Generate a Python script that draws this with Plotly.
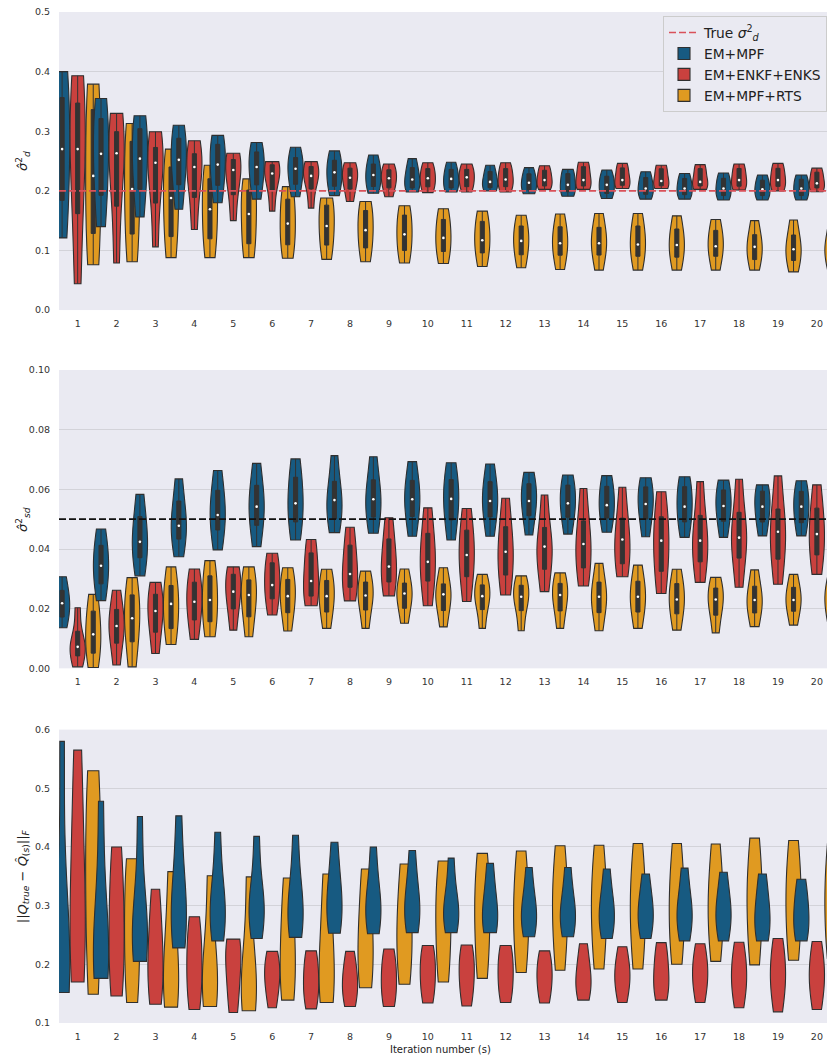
import numpy as np
import plotly.graph_objects as go
from plotly.subplots import make_subplots

# ---------------- data ----------------
ITERATIONS = list(range(1, 21))
METHODS = ["EM+MPF", "EM+ENKF+ENKS", "EM+MPF+RTS"]
TRUE_SIGMA_D = 0.2
TRUE_SIGMA_SD = 0.05

# each tuple: (min, q1, median, q3, max) of the runs for one iteration
sigd_mpf = [(0.121, 0.205, 0.27, 0.342, 0.40), (0.14, 0.21, 0.262, 0.31, 0.355), (0.156, 0.218, 0.254, 0.297, 0.326),
            (0.169, 0.224, 0.252, 0.281, 0.31), (0.18, 0.219, 0.244, 0.273, 0.293), (0.186, 0.218, 0.24, 0.26, 0.281),
            (0.19, 0.218, 0.237, 0.25, 0.273), (0.192, 0.213, 0.231, 0.246, 0.267), (0.196, 0.211, 0.2265, 0.24, 0.26),
            (0.198, 0.207, 0.219, 0.234, 0.254), (0.198, 0.207, 0.22, 0.232, 0.248), (0.20, 0.207, 0.215, 0.229, 0.243),
            (0.195, 0.204, 0.2136, 0.225, 0.239), (0.191, 0.201, 0.21, 0.2265, 0.236), (0.187, 0.1985, 0.21, 0.221, 0.235),
            (0.186, 0.197, 0.204, 0.219, 0.232), (0.186, 0.196, 0.204, 0.218, 0.229), (0.1846, 0.1946, 0.204, 0.218, 0.23),
            (0.1846, 0.1946, 0.2025, 0.215, 0.2265), (0.1846, 0.1946, 0.204, 0.217, 0.2265)]
sigd_enkf = [(0.044, 0.201, 0.27, 0.332, 0.393), (0.079, 0.206, 0.263, 0.289, 0.33), (0.106, 0.204, 0.247, 0.264, 0.299),
             (0.135, 0.207, 0.24, 0.255, 0.284), (0.15, 0.208, 0.235, 0.249, 0.263), (0.166, 0.213, 0.229, 0.242, 0.249),
             (0.171, 0.214, 0.225, 0.238, 0.249), (0.182, 0.21, 0.222, 0.235, 0.247), (0.19, 0.21, 0.221, 0.232, 0.245),
             (0.197, 0.21, 0.221, 0.234, 0.247), (0.198, 0.21, 0.2226, 0.233, 0.245), (0.198, 0.21, 0.219, 0.234, 0.247),
             (0.2025, 0.21, 0.218, 0.232, 0.242), (0.2025, 0.21, 0.218, 0.238, 0.248), (0.204, 0.211, 0.218, 0.236, 0.246),
             (0.204, 0.21, 0.2164, 0.235, 0.243), (0.2025, 0.21, 0.215, 0.235, 0.244), (0.2013, 0.21, 0.218, 0.235, 0.245),
             (0.20, 0.21, 0.218, 0.235, 0.246), (0.1985, 0.207, 0.2125, 0.229, 0.238)]
sigd_rts = [(0.076, 0.146, 0.225, 0.322, 0.379), (0.081, 0.143, 0.203, 0.273, 0.313), (0.088, 0.135, 0.188, 0.23, 0.27),
            (0.088, 0.13, 0.169, 0.2126, 0.243), (0.088, 0.119, 0.161, 0.195, 0.22), (0.087, 0.117, 0.145, 0.179, 0.207),
            (0.085, 0.117, 0.141, 0.172, 0.188), (0.081, 0.112, 0.134, 0.162, 0.182), (0.079, 0.107, 0.127, 0.154, 0.175),
            (0.078, 0.105, 0.121, 0.146, 0.17), (0.073, 0.1035, 0.117, 0.143, 0.166), (0.071, 0.10, 0.116, 0.135, 0.159),
            (0.068, 0.10, 0.112, 0.1326, 0.161), (0.067, 0.1007, 0.112, 0.131, 0.162), (0.067, 0.098, 0.11, 0.134, 0.162),
            (0.067, 0.096, 0.109, 0.1286, 0.158), (0.067, 0.098, 0.107, 0.1275, 0.152), (0.067, 0.0906, 0.106, 0.1186, 0.15),
            (0.064, 0.0895, 0.102, 0.1175, 0.151), (0.064, 0.0906, 0.102, 0.116, 0.148)]

sigsd_mpf = [(0.0136, 0.0184, 0.0218, 0.0246, 0.0307), (0.0227, 0.0302, 0.0344, 0.0394, 0.0467), (0.031, 0.0391, 0.0424, 0.0484, 0.0583),
             (0.0374, 0.0453, 0.0478, 0.0536, 0.0635), (0.0397, 0.0486, 0.0514, 0.0575, 0.0663), (0.0408, 0.0503, 0.0542, 0.0589, 0.0687),
             (0.043, 0.0511, 0.0553, 0.062, 0.0702), (0.0455, 0.0516, 0.0564, 0.0598, 0.0713), (0.0453, 0.0525, 0.0567, 0.0606, 0.0709),
             (0.0443, 0.0531, 0.0567, 0.0609, 0.0693), (0.043, 0.052, 0.0568, 0.0614, 0.0689), (0.0443, 0.0529, 0.0561, 0.0606, 0.0685),
             (0.0447, 0.0533, 0.0561, 0.0606, 0.0657), (0.045, 0.0525, 0.0553, 0.0603, 0.0648), (0.0456, 0.052, 0.0547, 0.0598, 0.0646),
             (0.0441, 0.052, 0.0551, 0.0598, 0.0639), (0.0439, 0.0508, 0.0542, 0.0598, 0.0642), (0.0439, 0.0511, 0.0544, 0.0587, 0.0631),
             (0.0444, 0.0506, 0.0542, 0.0587, 0.0615), (0.0444, 0.0503, 0.0542, 0.0581, 0.0629)]
sigsd_enkf = [(0.0005, 0.0054, 0.0072, 0.0098, 0.0203), (0.0011, 0.0109, 0.0142, 0.0176, 0.0262), (0.005, 0.0145, 0.0192, 0.0235, 0.0288),
              (0.0097, 0.0184, 0.0223, 0.0274, 0.0333), (0.0128, 0.0223, 0.0257, 0.0307, 0.034), (0.0179, 0.0251, 0.0279, 0.0343, 0.0386),
              (0.021, 0.0253, 0.0293, 0.0372, 0.0432), (0.0226, 0.0287, 0.0316, 0.0393, 0.0473), (0.0243, 0.0305, 0.0341, 0.041, 0.0505),
              (0.021, 0.032, 0.0357, 0.0424, 0.0538), (0.0224, 0.0335, 0.038, 0.0439, 0.0536), (0.0246, 0.0335, 0.0391, 0.0443, 0.057),
              (0.0257, 0.0357, 0.0408, 0.0436, 0.0581), (0.0276, 0.0357, 0.0417, 0.0458, 0.0603), (0.0307, 0.0365, 0.0432, 0.0469, 0.0607),
              (0.0251, 0.035, 0.0428, 0.048, 0.0592), (0.0288, 0.038, 0.0428, 0.0475, 0.0626), (0.0272, 0.0402, 0.0438, 0.0486, 0.0634),
              (0.0282, 0.0394, 0.0458, 0.0497, 0.0645), (0.0315, 0.0402, 0.045, 0.0511, 0.0615)]
sigsd_rts = [(0.0003, 0.0067, 0.0114, 0.0173, 0.0248), (0.0005, 0.0117, 0.0168, 0.0227, 0.0304), (0.008, 0.0151, 0.0216, 0.0257, 0.034),
             (0.0106, 0.0173, 0.0229, 0.0293, 0.0361), (0.0106, 0.0195, 0.0246, 0.0282, 0.034), (0.0125, 0.0207, 0.0242, 0.0285, 0.0337),
             (0.0134, 0.0207, 0.0242, 0.0282, 0.0332), (0.0134, 0.0216, 0.0244, 0.0277, 0.0326), (0.0151, 0.0218, 0.0251, 0.027, 0.0333),
             (0.0139, 0.0212, 0.0248, 0.0265, 0.0337), (0.0134, 0.0218, 0.0242, 0.0268, 0.0315), (0.0126, 0.0216, 0.024, 0.0268, 0.031),
             (0.0134, 0.0212, 0.0246, 0.0273, 0.032), (0.0126, 0.0207, 0.024, 0.0268, 0.0352), (0.0134, 0.0207, 0.024, 0.0274, 0.0346),
             (0.0128, 0.0201, 0.0231, 0.0268, 0.0332), (0.0119, 0.0198, 0.0231, 0.0257, 0.0305), (0.014, 0.0201, 0.0229, 0.0257, 0.033),
             (0.0145, 0.0207, 0.0229, 0.0257, 0.0315), (0.014, 0.02, 0.0229, 0.026, 0.031)]

qerr_mpf = [(0.152, 0.17, 0.21, 0.3, 0.58), (0.176, 0.19, 0.23, 0.3, 0.478), (0.205, 0.23, 0.26, 0.31, 0.452),
            (0.228, 0.26, 0.3, 0.34, 0.453), (0.24, 0.27, 0.3, 0.33, 0.425), (0.244, 0.28, 0.3, 0.33, 0.418),
            (0.246, 0.27, 0.3, 0.33, 0.42), (0.253, 0.28, 0.31, 0.34, 0.408), (0.252, 0.28, 0.3, 0.33, 0.40),
            (0.254, 0.28, 0.3, 0.33, 0.394), (0.254, 0.28, 0.29, 0.32, 0.381), (0.254, 0.27, 0.29, 0.32, 0.372),
            (0.247, 0.27, 0.29, 0.31, 0.365), (0.247, 0.27, 0.29, 0.31, 0.365), (0.244, 0.27, 0.29, 0.31, 0.3625),
            (0.244, 0.27, 0.29, 0.31, 0.354), (0.24, 0.27, 0.29, 0.31, 0.364), (0.24, 0.27, 0.29, 0.31, 0.357),
            (0.24, 0.26, 0.285, 0.31, 0.354), (0.24, 0.26, 0.285, 0.31, 0.345)]
qerr_enkf = [(0.17, 0.22, 0.3, 0.42, 0.565), (0.146, 0.2, 0.26, 0.33, 0.40), (0.132, 0.17, 0.21, 0.26, 0.328),
             (0.123, 0.16, 0.2, 0.24, 0.281), (0.118, 0.16, 0.2, 0.23, 0.243), (0.126, 0.16, 0.18, 0.2, 0.222),
             (0.124, 0.15, 0.17, 0.2, 0.223), (0.128, 0.15, 0.17, 0.19, 0.222), (0.128, 0.15, 0.175, 0.2, 0.226),
             (0.134, 0.16, 0.185, 0.21, 0.232), (0.129, 0.16, 0.185, 0.21, 0.233), (0.135, 0.16, 0.185, 0.21, 0.232),
             (0.134, 0.16, 0.18, 0.2, 0.223), (0.139, 0.16, 0.175, 0.2, 0.235), (0.135, 0.165, 0.18, 0.2, 0.23),
             (0.139, 0.16, 0.18, 0.21, 0.237), (0.135, 0.165, 0.185, 0.205, 0.235), (0.126, 0.16, 0.18, 0.205, 0.2375),
             (0.119, 0.16, 0.18, 0.21, 0.244), (0.123, 0.16, 0.18, 0.205, 0.239)]
qerr_rts = [(0.149, 0.25, 0.35, 0.45, 0.53), (0.135, 0.19, 0.26, 0.33, 0.38), (0.127, 0.15, 0.19, 0.25, 0.358),
            (0.128, 0.15, 0.18, 0.23, 0.351), (0.121, 0.14, 0.17, 0.22, 0.349), (0.139, 0.17, 0.22, 0.28, 0.347),
            (0.135, 0.16, 0.2, 0.27, 0.354), (0.16, 0.19, 0.24, 0.29, 0.3625), (0.166, 0.21, 0.26, 0.3, 0.371),
            (0.17, 0.22, 0.28, 0.32, 0.376), (0.176, 0.23, 0.29, 0.33, 0.389), (0.186, 0.24, 0.29, 0.33, 0.393),
            (0.19, 0.25, 0.3, 0.34, 0.402), (0.192, 0.25, 0.3, 0.34, 0.403), (0.192, 0.25, 0.3, 0.34, 0.406),
            (0.2, 0.25, 0.3, 0.34, 0.406), (0.205, 0.26, 0.3, 0.34, 0.405), (0.199, 0.26, 0.31, 0.35, 0.415),
            (0.207, 0.26, 0.31, 0.35, 0.411), (0.21, 0.26, 0.31, 0.35, 0.41)]

# y tick values of the three panels
TICKS_SIGD = [0.0, 0.1, 0.2, 0.3, 0.4, 0.5]
TICKS_SIGSD = [0.0, 0.02, 0.04, 0.06, 0.08, 0.10]
TICKS_QERR = [0.1, 0.2, 0.3, 0.4, 0.5, 0.6]

# ---------------- style ----------------
COLORS = {"EM+MPF": "#175a81", "EM+ENKF+ENKS": "#c9413e", "EM+MPF+RTS": "#e09a21"}
OFFSET = {"EM+MPF": -0.4, "EM+ENKF+ENKS": 0.0, "EM+MPF+RTS": 0.4}
RANK = {"EM+MPF": 2, "EM+ENKF+ENKS": 3, "EM+MPF+RTS": 4}
EDGE = "#2f2f2f"
BG = "#eaeaf2"
GRID = "#d3d3d9"
FONT = "DejaVu Sans"

panels = [
    {"data": {"EM+MPF": sigd_mpf, "EM+ENKF+ENKS": sigd_enkf, "EM+MPF+RTS": sigd_rts},
     "inner": True, "range": [0, 0.5], "ticks": TICKS_SIGD, "fmt": "{:.1f}", "domain": [0.7052, 1.0]},
    {"data": {"EM+MPF": sigsd_mpf, "EM+ENKF+ENKS": sigsd_enkf, "EM+MPF+RTS": sigsd_rts},
     "inner": True, "range": [0, 0.1], "ticks": TICKS_SIGSD, "fmt": "{:.2f}", "domain": [0.3508, 0.6459]},
    {"data": {"EM+MPF": qerr_mpf, "EM+ENKF+ENKS": qerr_enkf, "EM+MPF+RTS": qerr_rts},
     "inner": False, "range": [0.1, 0.6], "ticks": TICKS_QERR, "fmt": "{:.1f}", "domain": [0.0, 0.2902]},
]

fig = make_subplots(rows=3, cols=1)

for r, p in enumerate(panels, start=1):
    # one violin per trace so that every violin gets the same maximal width
    for k, it in enumerate(ITERATIONS):
        for m in METHODS:
            s = p["data"][m][k]
            pos = it + OFFSET[m]
            fig.add_trace(go.Violin(
                x=[pos] * len(s), y=list(s), name=m, legendgroup=m,
                showlegend=(r == 1 and k == 0), legendrank=RANK[m],
                scalegroup=f"p{r}-{m}-{it}", width=0.39, scalemode="width",
                spanmode="hard", points=False,
                fillcolor=COLORS[m], opacity=1, line=dict(color=EDGE, width=1.1),
                box=dict(visible=p["inner"], width=0.27, fillcolor="#333333",
                         line=dict(color="#333333", width=1)),
                meanline=dict(visible=False), hoverinfo="skip"), row=r, col=1)
    if p["inner"]:
        for m in METHODS:
            stats = p["data"][m]
            fig.add_trace(go.Scatter(
                x=[it + OFFSET[m] for it in ITERATIONS], y=[float(np.median(s)) for s in stats],
                mode="markers", marker=dict(color="white", size=2.6, line=dict(width=0)),
                showlegend=False, hoverinfo="skip"), row=r, col=1)

fig.add_hline(y=TRUE_SIGMA_D, row=1, col=1, layer="above",
              line=dict(color="#d9515a", width=1.6, dash="7px,3px"),
              showlegend=True, name="True <i>σ</i><sup>2</sup><sub><i>d</i></sub>", legendrank=1)
fig.add_hline(y=TRUE_SIGMA_SD, row=2, col=1, layer="above",
              line=dict(color="#111111", width=1.8, dash="7px,3px"))

for r, p in enumerate(panels, start=1):
    fig.update_xaxes(row=r, col=1, range=[0.52, 20.26], tickmode="array", tickvals=ITERATIONS,
                     ticktext=[str(i) for i in ITERATIONS], showgrid=False, zeroline=False,
                     showline=False, ticks="", ticklabelstandoff=6, automargin=False,
                     tickfont=dict(size=9.5, color="#333333", family=FONT))
    fig.update_yaxes(row=r, col=1, range=p["range"], tickmode="array", tickvals=p["ticks"],
                     ticktext=[p["fmt"].format(v) for v in p["ticks"]],
                     domain=p["domain"], showgrid=True, gridcolor=GRID, gridwidth=1, zeroline=False,
                     showline=False, ticks="", ticklabelstandoff=8, automargin=False,
                     tickfont=dict(size=9.5, color="#333333", family=FONT))

ytitles = ["<i>σ̂</i><sup>2</sup><sub><i>d</i></sub>",
           "<i>σ̂</i><sup>2</sup><sub><i>sd</i></sub>",
           "||<i>Q</i><sub><i>true</i></sub> − <i>Q̂</i><sub>(<i>s</i>)</sub>||<sub><i>F</i></sub>"]
yrefs = ["y domain", "y2 domain", "y3 domain"]
for t, yr in zip(ytitles, yrefs):
    fig.add_annotation(text=t, textangle=-90, xref="paper", x=-0.047, xanchor="center",
                       yref=yr, y=0.5, yanchor="middle", showarrow=False,
                       font=dict(size=13, color="#222222", family=FONT))
fig.add_annotation(text="Iteration number (s)", xref="paper", x=0.497, xanchor="center",
                   yref="paper", y=-0.0267, yanchor="middle", showarrow=False,
                   font=dict(size=10, color="#222222", family=FONT))

fig.update_layout(
    width=827, height=1057, margin=dict(l=59, r=0, t=12, b=34),
    paper_bgcolor="white", plot_bgcolor=BG, violinmode="overlay",
    font=dict(family=FONT, color="#222222"),
    legend=dict(x=1.0, xanchor="right", y=0.996, yanchor="top", bgcolor=BG,
                bordercolor="#cccccc", borderwidth=1, font=dict(size=13.8, color="#222222", family=FONT),
                tracegroupgap=0, itemwidth=30),
)

# remove the default page margin so the figure fills the 827x1057 window exactly
fig.write_html("out.html", config={"displayModeBar": False},
               post_script="document.body.style.margin='0px';"
                           "document.documentElement.style.overflow='hidden';")
